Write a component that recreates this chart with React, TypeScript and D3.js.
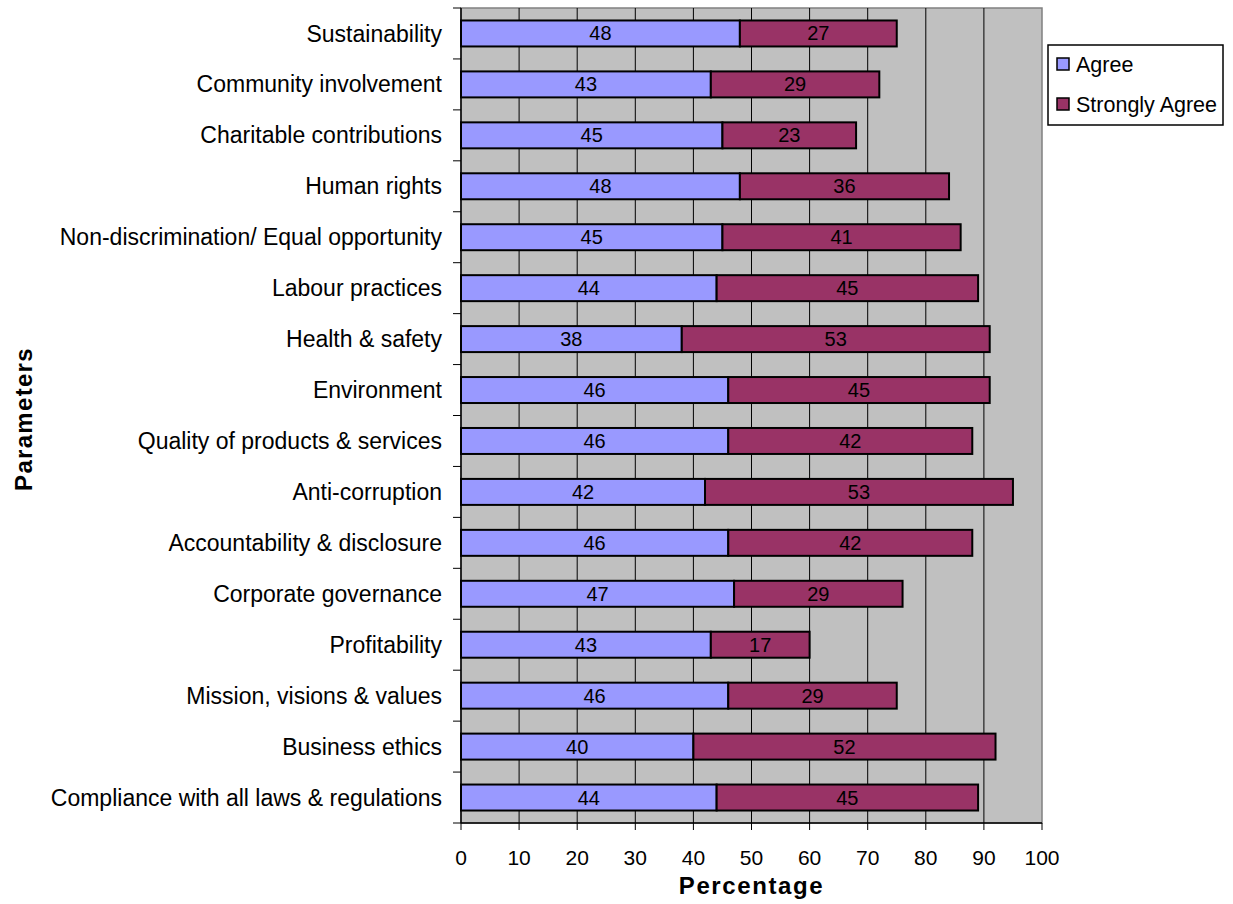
import React from "react";
import * as d3 from "d3";

const categories = [
  "Sustainability",
  "Community involvement",
  "Charitable contributions",
  "Human rights",
  "Non-discrimination/ Equal opportunity",
  "Labour practices",
  "Health & safety",
  "Environment",
  "Quality of products & services",
  "Anti-corruption",
  "Accountability & disclosure",
  "Corporate governance",
  "Profitability",
  "Mission, visions & values",
  "Business ethics",
  "Compliance with all laws & regulations",
];
const agree = [48, 43, 45, 48, 45, 44, 38, 46, 46, 42, 46, 47, 43, 46, 40, 44];
const stronglyAgree = [27, 29, 23, 36, 41, 45, 53, 45, 42, 53, 42, 29, 17, 29, 52, 45];
const seriesNames = ["Agree", "Strongly Agree"];
const seriesColors = ["#9999FF", "#993366"];
const xTicks = [0, 10, 20, 30, 40, 50, 60, 70, 80, 90, 100];

const W = 1233;
const H = 904;
const plot = { left: 461, right: 1042, top: 8, bottom: 823 };
const FONT = "Liberation Sans, Arial, sans-serif";

export default function App() {
  const x = d3.scaleLinear().domain([0, 100]).range([plot.left, plot.right]);
  const y = d3
    .scaleBand<string>()
    .domain(categories)
    .range([plot.top, plot.bottom])
    .paddingInner(0.49)
    .paddingOuter(0.245);
  const band = (plot.bottom - plot.top) / categories.length;

  const rows = categories.map((c, i) => ({ c, a: agree[i], s: stronglyAgree[i] }));

  return (
    <svg
      width={W}
      height={H}
      style={{ position: "absolute", left: 0, top: 0, background: "#fff" }}
      fontFamily={FONT}
    >
      <rect
        x={plot.left}
        y={plot.top}
        width={plot.right - plot.left}
        height={plot.bottom - plot.top}
        fill="#C0C0C0"
        stroke="#808080"
        strokeWidth={1.5}
      />
      {xTicks.slice(1, -1).map((t) => (
        <line key={t} x1={x(t)} x2={x(t)} y1={plot.top} y2={plot.bottom} stroke="#000" strokeWidth={1} />
      ))}
      {rows.map((r) => {
        const y0 = y(r.c)!;
        const h = y.bandwidth();
        return (
          <g key={r.c}>
            <rect x={x(0)} y={y0} width={x(r.a) - x(0)} height={h} fill={seriesColors[0]} stroke="#000" strokeWidth={2} />
            <rect x={x(r.a)} y={y0} width={x(r.a + r.s) - x(r.a)} height={h} fill={seriesColors[1]} stroke="#000" strokeWidth={2} />
            <text x={(x(0) + x(r.a)) / 2} y={y0 + h / 2} dy="0.35em" textAnchor="middle" fontSize={20} fill="#000">
              {r.a}
            </text>
            <text x={(x(r.a) + x(r.a + r.s)) / 2} y={y0 + h / 2} dy="0.35em" textAnchor="middle" fontSize={20} fill="#000">
              {r.s}
            </text>
            <text x={442} y={y0 + h / 2} dy="0.35em" textAnchor="end" fontSize={23} fill="#000">
              {r.c}
            </text>
          </g>
        );
      })}
      {/* y axis line and category ticks */}
      <line x1={plot.left} x2={plot.left} y1={plot.top} y2={plot.bottom} stroke="#000" strokeWidth={1.5} />
      {d3.range(categories.length + 1).map((i) => (
        <line
          key={i}
          x1={plot.left - 8}
          x2={plot.left}
          y1={plot.top + i * band}
          y2={plot.top + i * band}
          stroke="#000"
          strokeWidth={1}
        />
      ))}
      {/* x axis */}
      <line x1={plot.left} x2={plot.right} y1={plot.bottom} y2={plot.bottom} stroke="#000" strokeWidth={1.5} />
      {xTicks.map((t) => (
        <g key={t}>
          <line x1={x(t)} x2={x(t)} y1={plot.bottom} y2={plot.bottom + 7} stroke="#000" strokeWidth={1} />
          <text x={x(t)} y={858} dy="0.35em" textAnchor="middle" fontSize={21} fill="#000">
            {t}
          </text>
        </g>
      ))}
      <text x={(plot.left + plot.right) / 2} y={886} dy="0.35em" textAnchor="middle" fontSize={24} fontWeight="bold" letterSpacing={1.6}>
        Percentage
      </text>
      <text
        transform={`translate(24,419) rotate(-90)`}
        dy="0.35em"
        textAnchor="middle"
        fontSize={24}
        fontWeight="bold"
        letterSpacing={1.3}
      >
        Parameters
      </text>
      {/* legend */}
      <rect x={1048} y={45} width={175} height={80} fill="#fff" stroke="#000" strokeWidth={1.5} />
      {seriesNames.map((n, i) => (
        <g key={n}>
          <rect x={1057} y={58 + i * 40} width={12} height={12} fill={seriesColors[i]} stroke="#000" strokeWidth={1.5} />
          <text x={1076} y={64 + i * 40} dy="0.35em" fontSize={21.5} fill="#000">
            {n}
          </text>
        </g>
      ))}
    </svg>
  );
}
